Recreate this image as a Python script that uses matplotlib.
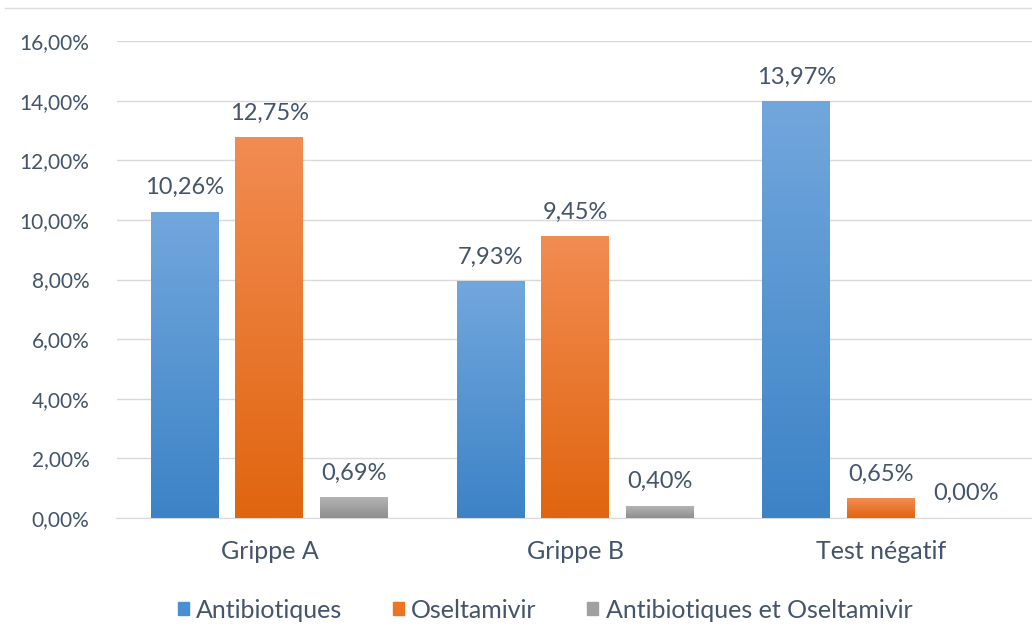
import matplotlib
matplotlib.use("Agg")
import matplotlib.pyplot as plt
import numpy as np
from matplotlib.colors import LinearSegmentedColormap
from matplotlib.lines import Line2D

categories = ["Grippe A", "Grippe B", "Test négatif"]
antibiotiques = [10.26, 7.93, 13.97]
oseltamivir = [12.75, 9.45, 0.65]
les_deux = [0.69, 0.40, 0.00]
series_names = ["Antibiotiques", "Oseltamivir", "Antibiotiques et Oseltamivir"]
yticks = [0, 2, 4, 6, 8, 10, 12, 14, 16]

# (top colour, bottom colour, legend colour)
colors = [("#72a7dd", "#3c83c6", "#4a8fd1"),
          ("#f28c52", "#e0650f", "#ec7524"),
          ("#b3b3b3", "#8e8e8e", "#a0a0a0")]

text_col = "#44546a"
plt.rcParams['font.family'] = ['Lato', 'DejaVu Sans']

fig = plt.figure(figsize=(10.32, 6.26), dpi=100)
ax = fig.add_axes([116.5 / 1032, 108 / 626, (1034 - 116.5) / 1032, (518 - 41) / 626])

x = np.arange(len(categories))
width = 0.222
step = 0.277
all_series = [antibiotiques, oseltamivir, les_deux]

for i, vals in enumerate(all_series):
    top, bot, leg = colors[i]
    cmap = LinearSegmentedColormap.from_list("g%d" % i, [bot, top])
    bars = ax.bar(x + (i - 1) * step, vals, width, color="none", zorder=3)
    for b, v in zip(bars, vals):
        if v > 0:
            grad = np.linspace(0, 1, 256).reshape(-1, 1)
            ax.imshow(grad, cmap=cmap, origin="lower", aspect="auto",
                      extent=[b.get_x(), b.get_x() + b.get_width(), 0, b.get_height()],
                      zorder=3, interpolation="bilinear")
        ax.annotate(("%.2f%%" % v).replace(".", ","),
                    (b.get_x() + b.get_width() / 2, b.get_height()),
                    xytext=(0, 10), textcoords="offset points",
                    ha="center", va="bottom", fontsize=17, color=text_col)

ax.set_xlim(-0.5, 2.5)
ax.set_ylim(0, 16)
ax.set_yticks(yticks)
ax.set_yticklabels([("%.2f%%" % t).replace(".", ",") for t in yticks])
ax.set_xticks(x)
ax.set_xticklabels(categories)
ax.tick_params(axis="both", length=0, labelcolor=text_col)
ax.tick_params(axis="y", pad=19.5, labelsize=15)
ax.tick_params(axis="x", pad=16, labelsize=18)
ax.grid(axis="y", color="#d9d9d9", linewidth=1, zorder=0)
for s in ["top", "right", "left"]:
    ax.spines[s].set_visible(False)
ax.spines["bottom"].set_color("#d9d9d9")
ax.set_axisbelow(True)

# thin frame line at top
fig.add_artist(Line2D([5 / 1032, 1], [1 - 8 / 626, 1 - 8 / 626],
                      color="#dcdcdc", linewidth=1, transform=fig.transFigure))

handles = [plt.Rectangle((0, 0), 1, 1, color=c[2]) for c in colors]
fig.legend(handles, series_names, loc="center", bbox_to_anchor=(0.528, 1 - 610 / 626),
           ncol=3, frameon=False, fontsize=18, labelcolor=text_col,
           handlelength=0.45, handleheight=0.45, handletextpad=0.3, columnspacing=2.0)

fig.savefig("out.png", dpi=100)
